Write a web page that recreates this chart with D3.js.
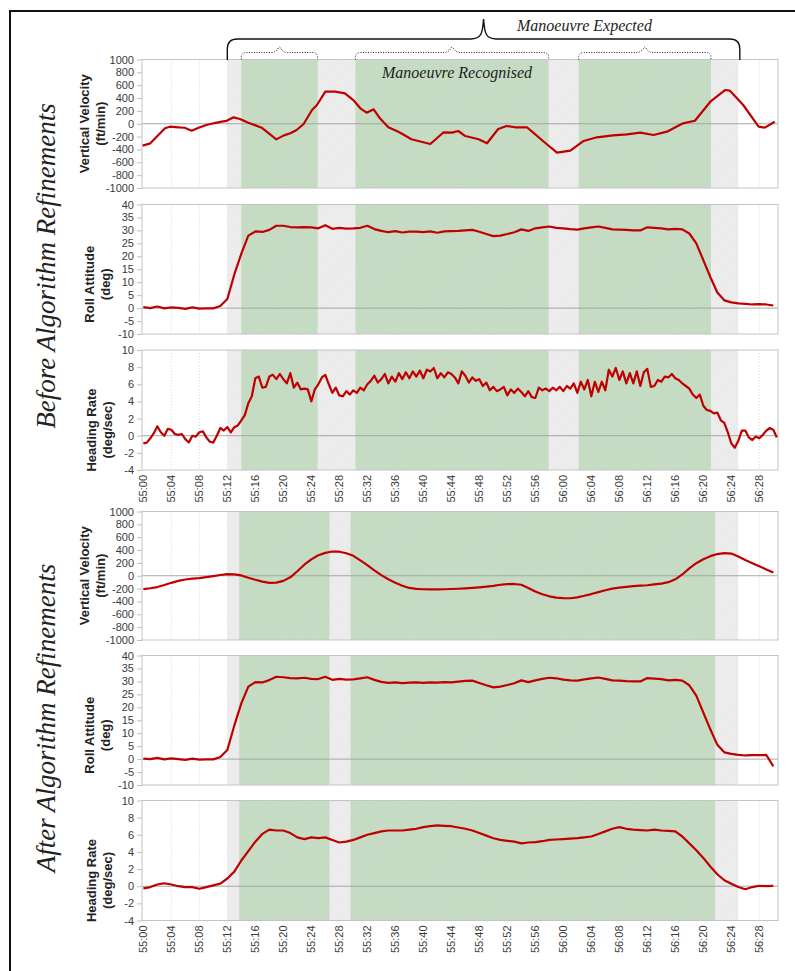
<!DOCTYPE html>
<meta charset="utf-8">
<title>Manoeuvre recognition</title>
<style>
body {
  margin: 0;
  background-color: white;
}
svg {
  display: block;
  font-family: 'Liberation Sans', Arial, sans-serif;
}
.tick text {
  fill: #3a3a3a;
  font-size: 11px;
}
.tick line {
  stroke: #bfbfbf;
}
.ytitle {
  font-weight: bold;
  font-size: 13px;
  fill: #222;
}
.note {
  font-family: 'Liberation Serif', 'Times New Roman', serif;
  font-style: italic;
  fill: #222;
}
</style>
<svg width="795" height="971"></svg>
<script src="https://d3js.org/d3.v7.min.js"></script>
<script>
// time is in seconds after 55:00
var tickSeconds = [0, 4, 8, 12, 16, 20, 24, 28, 32, 36, 40, 44, 48, 52, 56, 60, 64, 68, 72, 76, 80, 84, 88];
var tickLabels = ["55:00", "55:04", "55:08", "55:12", "55:16", "55:20", "55:24", "55:28", "55:32", "55:36",
  "55:40", "55:44", "55:48", "55:52", "55:56", "56:00", "56:04", "56:08", "56:12", "56:16", "56:20",
  "56:24", "56:28"];

var expectedBand = [12, 85];
var recognisedBefore = [[14, 24.9], [30.3, 57.9], [62.2, 81.1]];
var recognisedAfter = [[13.7, 26.6], [29.6, 81.7]];

// before: vertical velocity as [sec, ft/min]
var vvBefore = [[-0.1, -341], [1, -305], [3.1, -71], [3.8, -46], [5, -56], [5.9, -62], [6.9, -108], [7.9, -61],
  [9, -19], [10, 7], [11.2, 32], [11.9, 46], [12.9, 100], [13.8, 74], [15, 17], [16.9, -61], [19, -243],
  [20, -185], [21, -149], [21.9, -97], [22.9, -4], [24.1, 214], [24.8, 292], [26, 499], [27.4, 499],
  [28.8, 473], [30, 369], [31, 240], [31.9, 172], [32.9, 224], [33.8, 85], [35, -55], [36.2, -113],
  [36.7, -139], [38.3, -242], [41, -315], [42.9, -133], [44.1, -139], [45, -113], [46, -191], [47.9, -242],
  [49.1, -304], [50.7, -82], [51.9, -35], [53.1, -55], [54.8, -55], [55.7, -139], [57.6, -315], [59.1, -450],
  [61, -419], [62.9, -268], [64.8, -211], [67.1, -180], [69.1, -165], [71, -139], [72.9, -175], [74.8, -123],
  [77.1, 7], [78.8, 47], [81, 343], [83.1, 525], [83.8, 515], [85.7, 292], [87.9, -46], [88.8, -61], [90.2, 32]];

// before: roll attitude, one value per second
var rollBefore = [0.4, 0.0, 0.6, -0.1, 0.3, 0.1, -0.3, 0.3, -0.2, -0.1, -0.1, 0.8, 3.5, 13.0, 21.0, 28.0,
  29.6, 29.4, 30.2, 31.8, 31.8, 31.3, 31.2, 31.3, 31.2, 30.8, 32.0, 30.6, 31.0, 30.7, 30.8, 31.0, 31.8, 30.5,
  29.8, 29.3, 29.7, 29.2, 29.5, 29.5, 29.3, 29.6, 29.1, 29.6, 29.7, 29.8, 30.0, 30.2, 29.5, 28.6, 27.8, 28.0,
  28.6, 29.3, 30.4, 29.8, 30.8, 31.2, 31.5, 31.0, 30.8, 30.5, 30.3, 30.8, 31.2, 31.5, 31.0, 30.4, 30.3, 30.2,
  30.0, 30.0, 31.2, 31.0, 30.8, 30.4, 30.6, 30.4, 28.8, 25.0, 18.5, 12.0, 6.0, 3.0, 2.2, 1.8, 1.6, 1.4, 1.5,
  1.4, 1.0];

// before: heading rate, one value every half second
var hdgBefore = [-0.9, -0.8, -0.3, 0.3, 1.1, 0.4, 0.0, 0.8, 0.7, 0.2, 0.1, 0.2, -0.4, -0.8, 0.0, -0.1, 0.4,
  0.5, -0.2, -0.7, -0.8, 0.0, 0.9, 0.6, 1.0, 0.4, 1.0, 1.2, 1.8, 2.4, 3.8, 4.6, 6.7, 6.9, 5.6, 5.7, 6.9, 7.1,
  6.6, 7.2, 6.6, 6.1, 7.3, 5.6, 6.2, 5.4, 5.5, 5.4, 4.0, 5.4, 6.0, 6.8, 7.1, 6.0, 5.0, 5.6, 4.7, 4.6, 5.2,
  4.8, 5.3, 5.0, 5.6, 5.3, 6.0, 6.4, 7.0, 6.2, 6.6, 7.2, 6.1, 6.9, 6.3, 7.3, 6.6, 7.4, 6.7, 7.5, 6.9, 7.6,
  6.7, 7.7, 7.5, 7.9, 6.7, 7.3, 6.8, 7.4, 7.2, 6.8, 6.1, 7.5, 7.0, 6.2, 6.8, 6.4, 6.6, 5.8, 6.2, 5.3, 5.7,
  5.2, 5.4, 5.7, 4.7, 5.4, 5.0, 5.5, 5.1, 4.6, 5.2, 4.5, 4.4, 5.6, 5.3, 5.5, 5.2, 5.6, 5.3, 5.7, 5.2, 5.8,
  5.5, 6.1, 5.0, 6.3, 5.4, 6.5, 4.6, 6.3, 5.1, 6.3, 5.3, 7.7, 6.9, 7.9, 6.5, 7.5, 6.1, 7.3, 6.1, 7.5, 5.8,
  7.4, 7.8, 5.7, 5.8, 6.5, 6.3, 6.9, 6.8, 7.2, 6.7, 6.5, 6.1, 5.8, 5.5, 4.8, 4.4, 4.8, 3.5, 3.0, 2.9, 2.6,
  2.7, 1.8, 1.5, 0.4, -0.9, -1.4, -0.6, 0.6, 0.6, -0.2, -0.5, -0.1, -0.3, 0.1, 0.6, 0.9, 0.7, -0.2];

// after: one value per second
var vvAfter = [-209, -195, -176, -145, -110, -80, -58, -46, -38, -22, -5, 12, 24, 22, 5, -32, -62, -92, -112,
  -108, -80, -25, 70, 172, 255, 318, 356, 377, 374, 350, 310, 240, 165, 85, 10, -55, -110, -155, -190, -205,
  -210, -212, -212, -210, -206, -202, -196, -188, -180, -170, -157, -140, -130, -128, -140, -190, -245, -287,
  -320, -340, -348, -350, -336, -312, -285, -255, -225, -200, -186, -172, -162, -155, -148, -135, -122, -100,
  -55, 20, 115, 195, 258, 305, 338, 352, 345, 300, 245, 196, 147, 98, 49];

var rollAfter = [0.2, 0.0, 0.5, -0.1, 0.3, 0.0, -0.3, 0.2, -0.2, -0.1, -0.1, 0.8, 3.5, 13.0, 21.5, 28.0, 29.7,
  29.6, 30.5, 31.8, 31.6, 31.3, 31.2, 31.4, 31.0, 30.9, 31.8, 30.6, 31.0, 30.7, 30.8, 31.2, 31.6, 30.6, 29.8,
  29.4, 29.6, 29.3, 29.5, 29.6, 29.4, 29.6, 29.5, 29.7, 29.6, 29.9, 30.2, 30.3, 29.4, 28.5, 27.7, 28.0, 28.6,
  29.3, 30.4, 29.7, 30.4, 31.0, 31.4, 31.2, 30.7, 30.4, 30.3, 30.8, 31.2, 31.5, 31.0, 30.4, 30.3, 30.1, 30.0,
  30.0, 31.3, 31.1, 30.9, 30.4, 30.6, 30.3, 28.5, 24.5, 18.0, 11.5, 5.5, 2.6, 2.0, 1.6, 1.4, 1.5, 1.5, 1.6,
  -2.8];

var hdgAfter = [-0.25, -0.1, 0.2, 0.35, 0.2, 0.0, -0.1, -0.1, -0.3, -0.1, 0.1, 0.3, 0.9, 1.7, 3.0, 4.1, 5.2,
  6.1, 6.6, 6.5, 6.5, 6.2, 5.7, 5.5, 5.7, 5.6, 5.7, 5.4, 5.1, 5.2, 5.4, 5.7, 6.0, 6.2, 6.4, 6.5, 6.5, 6.5,
  6.6, 6.7, 6.9, 7.0, 7.1, 7.05, 7.0, 6.85, 6.7, 6.5, 6.2, 5.9, 5.6, 5.4, 5.3, 5.2, 5.0, 5.1, 5.15, 5.25,
  5.4, 5.45, 5.5, 5.55, 5.6, 5.7, 5.8, 6.1, 6.4, 6.7, 6.9, 6.7, 6.6, 6.55, 6.5, 6.6, 6.5, 6.45, 6.4, 5.8,
  5.0, 4.2, 3.3, 2.3, 1.4, 0.7, 0.3, -0.1, -0.35, -0.1, 0.05, 0.0, 0.05];

function stepSeries(values, step) {
  return values.map(function(v, i) { return [i * step, v]; });
}

var yDefs = {
  vv:   { domain: [-1000, 1000], ticks: d3.range(-1000, 1001, 200), title: ["Vertical Velocity", "(ft/min)"], tx: 88.5, shift: 0 },
  roll: { domain: [-10, 40], ticks: d3.range(-10, 41, 5), title: ["Roll Attitude", "(deg)"], tx: 94, shift: 15 },
  hdg:  { domain: [-4, 10], ticks: d3.range(-4, 11, 2), title: ["Heading Rate", "(deg/sec)"], tx: 95.5, shift: 20 }
};

var groups = [
  { label: "Before Algorithm Refinements", labelY: 266, bands: recognisedBefore, panels: [
    { type: "vv", top: 59.5, bottom: 188, data: vvBefore },
    { type: "roll", top: 204.5, bottom: 334, data: stepSeries(rollBefore, 1) },
    { type: "hdg", top: 350, bottom: 470, data: stepSeries(hdgBefore, 0.5), xAxis: true }
  ]},
  { label: "After Algorithm Refinements", labelY: 718, bands: recognisedAfter, panels: [
    { type: "vv", top: 511.5, bottom: 640, data: stepSeries(vvAfter, 1) },
    { type: "roll", top: 655.5, bottom: 785, data: stepSeries(rollAfter, 1) },
    { type: "hdg", top: 800.5, bottom: 920.5, data: stepSeries(hdgAfter, 1), xAxis: true }
  ]}
];

var svg = d3.select("svg");
var x = d3.scaleLinear().domain([-0.19, 90.67]).range([142, 778]);

var defs = svg.append("defs");
function hatch(id, base, stripe) {
  var p = defs.append("pattern")
    .attr("id", id)
    .attr("patternUnits", "userSpaceOnUse")
    .attr("width", 2).attr("height", 2)
    .attr("patternTransform", "rotate(45)");
  p.append("rect").attr("width", 2).attr("height", 2).attr("fill", base);
  p.append("line").attr("x1", 0.5).attr("y1", 0).attr("x2", 0.5).attr("y2", 2)
    .attr("stroke", stripe).attr("stroke-width", 1);
}
hatch("hatchGreen", "#c1d9bf", "#c9dec7");
hatch("hatchGray", "#e9e9e9", "#eeeeee");

// outer frame (cropped at right and bottom)
svg.append("rect")
  .attr("x", 10).attr("y", 11)
  .attr("width", 900).attr("height", 1000)
  .attr("fill", "none").attr("stroke", "#111").attr("stroke-width", 2);

var line = d3.line()
  .x(function(d) { return x(d[0]); });

groups.forEach(function(group, gi) {
  group.panels.forEach(function(p, pi) {
    var def = yDefs[p.type];
    var y = d3.scaleLinear().domain(def.domain).range([p.bottom, p.top]);
    var g = svg.append("g");
    var h = p.bottom - p.top;

    g.selectAll(".grid")
      .data(tickSeconds.slice(1))
      .enter().append("line")
        .attr("x1", function(d) { return x(d); })
        .attr("x2", function(d) { return x(d); })
        .attr("y1", p.top).attr("y2", p.bottom)
        .attr("stroke", "#d4d4d4")
        .attr("stroke-dasharray", "1,2");

    g.append("rect")
      .attr("x", x(expectedBand[0]))
      .attr("width", x(expectedBand[1]) - x(expectedBand[0]))
      .attr("y", p.top).attr("height", h)
      .attr("fill", "url(#hatchGray)");

    g.selectAll(".band")
      .data(group.bands)
      .enter().append("rect")
        .attr("x", function(d) { return x(d[0]); })
        .attr("width", function(d) { return x(d[1]) - x(d[0]); })
        .attr("y", p.top).attr("height", h)
        .attr("fill", "url(#hatchGreen)");

    g.append("line")
      .attr("x1", x.range()[0]).attr("x2", x.range()[1])
      .attr("y1", y(0)).attr("y2", y(0))
      .attr("stroke", "#a6a6a6");

    g.append("rect")
      .attr("x", x.range()[0]).attr("y", p.top)
      .attr("width", x.range()[1] - x.range()[0]).attr("height", h)
      .attr("fill", "none").attr("stroke", "#c4c4c4");

    var ax = g.append("g")
      .attr("transform", "translate(" + x.range()[0] + ",0)")
      .call(d3.axisLeft(y).tickValues(def.ticks).tickSize(5).tickPadding(3)
        .tickFormat(function(d) { return String(d); }));
    ax.select(".domain").remove();
    ax.selectAll("text").attr("font-family", null).attr("font-size", null);

    var clipId = "clip" + gi + pi;
    defs.append("clipPath").attr("id", clipId)
      .append("rect")
        .attr("x", x.range()[0]).attr("y", p.top)
        .attr("width", x.range()[1] - x.range()[0]).attr("height", h);

    g.append("path")
      .datum(p.data)
      .attr("clip-path", "url(#" + clipId + ")")
      .attr("d", line.y(function(d) { return y(d[1]); }))
      .attr("fill", "none")
      .attr("stroke", "#c00000")
      .attr("stroke-width", 2.2)
      .attr("stroke-linejoin", "round");

    var cy = (p.top + p.bottom) / 2 + def.shift;
    def.title.forEach(function(t, i) {
      var bx = def.tx + i * 16;
      g.append("text")
        .attr("class", "ytitle")
        .attr("transform", "translate(" + bx + "," + cy + ") rotate(-90)")
        .attr("text-anchor", "middle")
        .text(t);
    });

    if (p.xAxis) {
      g.selectAll(".xl")
        .data(tickSeconds)
        .enter().append("text")
          .attr("transform", function(d) { return "translate(" + x(d) + "," + (p.bottom + 5) + ") rotate(-90)"; })
          .attr("dy", "0.35em")
          .attr("text-anchor", "end")
          .attr("fill", "#3a3a3a")
          .attr("font-size", 11)
          .text(function(d, i) { return tickLabels[i]; });
    }
  });

  svg.append("text")
    .attr("class", "note")
    .attr("transform", "translate(55," + group.labelY + ") rotate(-90)")
    .attr("text-anchor", "middle")
    .attr("font-size", 27)
    .text(group.label);
});

// braces over the top chart
function brace(x0, x1, yLine, yEnd, tipY, r, half) {
  var xm = (x0 + x1) / 2;
  return "M" + x0 + "," + yEnd +
    "L" + x0 + "," + (yLine + r) +
    "Q" + x0 + "," + yLine + " " + (x0 + r) + "," + yLine +
    "L" + (xm - half) + "," + yLine +
    "C" + (xm - 2) + "," + yLine + " " + (xm - 1) + "," + (yLine - 6) + " " + xm + "," + tipY +
    "C" + (xm + 1) + "," + (yLine - 6) + " " + (xm + 2) + "," + yLine + " " + (xm + half) + "," + yLine +
    "L" + (x1 - r) + "," + yLine +
    "Q" + x1 + "," + yLine + " " + x1 + "," + (yLine + r) +
    "L" + x1 + "," + yEnd;
}

svg.append("path")
  .attr("d", brace(x(expectedBand[0]), x(expectedBand[1]) + 1.5, 39, 60, 19, 10, 13))
  .attr("fill", "none").attr("stroke", "#111").attr("stroke-width", 1.4);

svg.selectAll(".rbrace")
  .data(recognisedBefore)
  .enter().append("path")
    .attr("d", function(d) { return brace(x(d[0]), x(d[1]), 52.5, 59.5, 47, 5, 8); })
    .attr("fill", "none").attr("stroke", "#222").attr("stroke-width", 1)
    .attr("stroke-dasharray", "1,1.5");

svg.append("text")
  .attr("class", "note")
  .attr("x", 517).attr("y", 31)
  .attr("font-size", 16)
  .text("Manoeuvre Expected");

svg.append("text")
  .attr("class", "note")
  .attr("x", 382).attr("y", 78)
  .attr("font-size", 16)
  .text("Manoeuvre Recognised");
</script>
